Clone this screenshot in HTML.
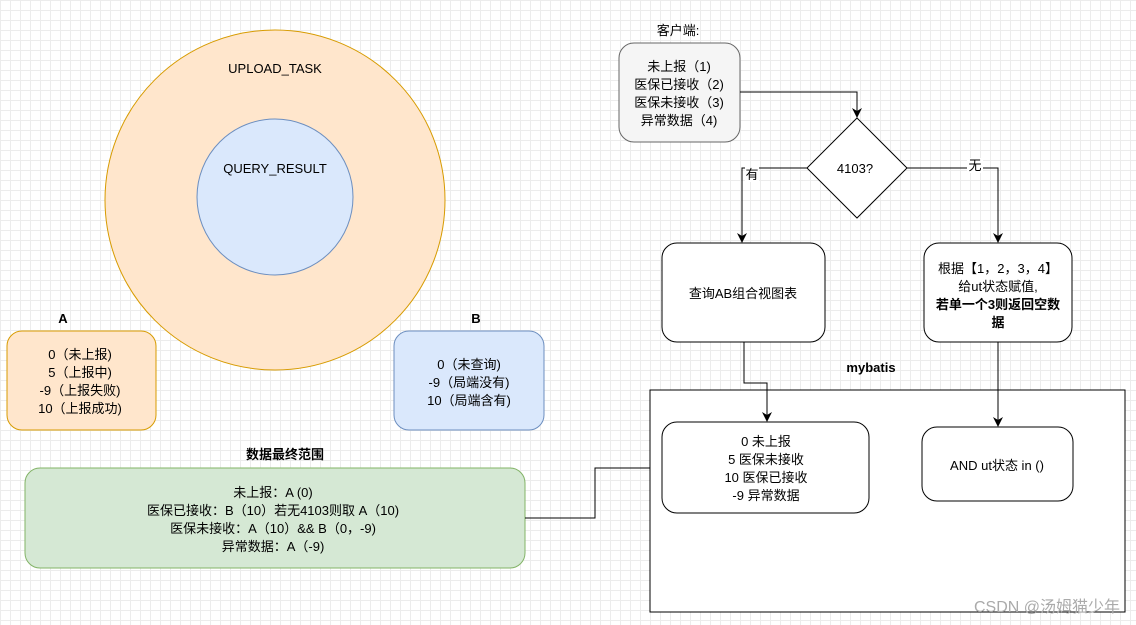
<!DOCTYPE html>
<html><head><meta charset="utf-8"><style>
html,body{margin:0;padding:0;}
body{width:1136px;height:625px;overflow:hidden;background:#fff;
background-image:linear-gradient(#ececec 1px,transparent 1px),linear-gradient(90deg,#ececec 1px,transparent 1px);background-size:10px 10px;}
svg{position:absolute;left:0;top:0;}
text{font-family:"Liberation Sans","Noto Sans CJK SC",sans-serif;font-size:13px;fill:#000;}
</style></head><body>
<svg width="1136" height="625" viewBox="0 0 1136 625">
<defs><marker id="ar" markerWidth="10" markerHeight="10" refX="9" refY="5" orient="auto" markerUnits="userSpaceOnUse"><path d="M0,0 L10,5 L0,10 L3,5 Z" fill="#000"/></marker></defs>
<circle cx="275" cy="200" r="170" fill="#ffe6cc" stroke="#d79b00"/>
<text x="275" y="73" text-anchor="middle">UPLOAD_TASK</text>
<circle cx="275" cy="197" r="78" fill="#dae8fc" stroke="#6c8ebf"/>
<text x="275" y="173" text-anchor="middle">QUERY_RESULT</text>

<text x="63" y="323" text-anchor="middle" font-weight="bold">A</text>
<rect x="7" y="331" width="149" height="99" rx="15" fill="#ffe6cc" stroke="#d79b00"/>
<g text-anchor="middle"><text x="80" y="359">0（未上报)</text><text x="80" y="377">5（上报中)</text><text x="80" y="395">-9（上报失败)</text><text x="80" y="413">10（上报成功)</text></g>

<text x="476" y="323" text-anchor="middle" font-weight="bold">B</text>
<rect x="394" y="331" width="150" height="99" rx="15" fill="#dae8fc" stroke="#6c8ebf"/>
<g text-anchor="middle"><text x="469" y="369">0（未查询)</text><text x="469" y="387">-9（局端没有)</text><text x="469" y="405">10（局端含有)</text></g>

<text x="285" y="459" text-anchor="middle" font-weight="bold">数据最终范围</text>
<rect x="25" y="468" width="500" height="100" rx="15" fill="#d5e8d4" stroke="#82b366"/>
<g text-anchor="middle"><text x="273" y="497">未上报：A (0)</text><text x="273" y="515">医保已接收：B（10）若无4103则取 A（10)</text><text x="273" y="533">医保未接收：A（10）&amp;&amp; B（0，-9)</text><text x="273" y="551">异常数据：A（-9)</text></g>
<path d="M525,518 H595 V468 H661" fill="none" stroke="#000" marker-end="url(#ar)"/>

<text x="678" y="35" text-anchor="middle">客户端:</text>
<rect x="619" y="43" width="121" height="99" rx="15" fill="#f5f5f5" stroke="#666"/>
<g text-anchor="middle" style="fill:#333"><text x="679" y="71" fill="#333">未上报（1)</text><text x="679" y="89" fill="#333">医保已接收（2)</text><text x="679" y="107" fill="#333">医保未接收（3)</text><text x="679" y="125" fill="#333">异常数据（4)</text></g>
<path d="M740,92 H857 V117" fill="none" stroke="#000" marker-end="url(#ar)"/>
<polygon points="857,118 907,168 857,218 807,168" fill="#fff" stroke="#000"/>
<text x="855" y="173" text-anchor="middle">4103?</text>
<path d="M807,168 H742 V242" fill="none" stroke="#000" marker-end="url(#ar)"/>
<rect x="745" y="167" width="14" height="15" fill="#fff"/><text x="752" y="179" text-anchor="middle">有</text>
<path d="M907,168 H998 V242" fill="none" stroke="#000" marker-end="url(#ar)"/>
<rect x="967" y="158" width="16" height="15" fill="#fff"/><text x="975" y="170" text-anchor="middle">无</text>

<rect x="662" y="243" width="163" height="99" rx="15" fill="#fff" stroke="#000"/>
<text x="743" y="298" text-anchor="middle">查询AB组合视图表</text>
<rect x="924" y="243" width="148" height="99" rx="15" fill="#fff" stroke="#000"/>
<g text-anchor="middle"><text x="998" y="273">根据【1，2，3，4】</text><text x="998" y="291">给ut状态赋值,</text><text x="998" y="309" font-weight="bold">若单一个3则返回空数</text><text x="998" y="327" font-weight="bold">据</text></g>

<text x="871" y="372" text-anchor="middle" font-weight="bold">mybatis</text>
<rect x="650" y="390" width="475" height="222" fill="#fff" stroke="#000"/>
<path d="M744,342 V383 H767 V421" fill="none" stroke="#000" marker-end="url(#ar)"/>
<path d="M998,342 V426" fill="none" stroke="#000" marker-end="url(#ar)"/>
<rect x="662" y="422" width="207" height="91" rx="15" fill="#fff" stroke="#000"/>
<g text-anchor="middle"><text x="766" y="446">0 未上报</text><text x="766" y="464">5 医保未接收</text><text x="766" y="482">10 医保已接收</text><text x="766" y="500">-9 异常数据</text></g>
<rect x="922" y="427" width="151" height="74" rx="15" fill="#fff" stroke="#000"/>
<text x="997" y="470" text-anchor="middle">AND ut状态 in ()</text>
<text x="1120" y="612" text-anchor="end" style="font-size:16px;fill:#aaa" fill="#aaa">CSDN @汤姆猫少年</text>
</svg>
</body></html>
